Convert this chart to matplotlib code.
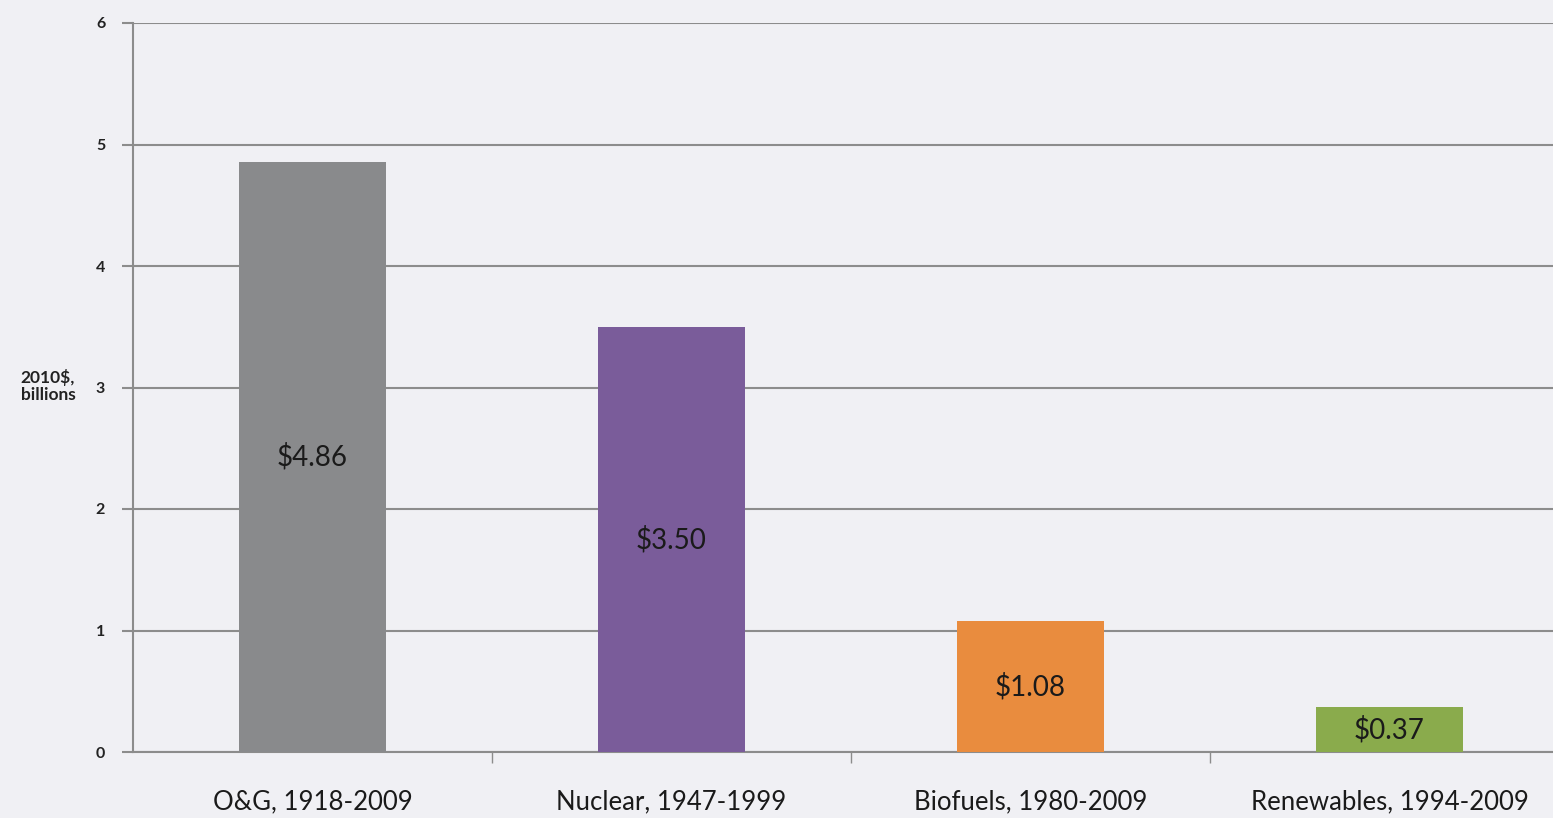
import matplotlib
matplotlib.use("Agg")
import matplotlib.pyplot as plt

categories = ["O&G, 1918-2009", "Nuclear, 1947-1999", "Biofuels, 1980-2009", "Renewables, 1994-2009"]
values = [4.86, 3.50, 1.08, 0.37]
value_labels = ["$4.86", "$3.50", "$1.08", "$0.37"]
colors = ["#898a8c", "#7a5c9a", "#e98c3e", "#8aab4c"]
yticks = [0, 1, 2, 3, 4, 5, 6]

bg = "#f0f0f4"
plt.rcParams['font.family'] = ['Lato', 'DejaVu Sans']

fig = plt.figure(figsize=(15.53, 8.18), dpi=100, facecolor=bg)
ax = fig.add_axes([133/1553, 66/818, 1436/1553, 729/818], facecolor=bg)

x = list(range(len(categories)))
ax.bar(x, values, width=0.41, color=colors, zorder=3)
for xi, v, lab in zip(x, values, value_labels):
    ax.text(xi, v / 2, lab, ha="center", va="center", fontsize=20, color="#1a1a1a", zorder=4)

ax.set_xlim(-0.5, 3.5)
ax.set_ylim(0, 6)
ax.set_yticks(yticks)
ax.set_yticklabels([str(t) for t in yticks], fontsize=11.5, fontweight="bold", color="#222222")
ax.yaxis.grid(True, color="#8c8c8c", linewidth=1.5, zorder=1)
ax.set_xticks(x)
ax.set_xticklabels(categories, fontsize=18.5, color="#1a1a1a")
ax.tick_params(axis="x", which="major", length=0, pad=27)
ax.set_xticks([0.5, 1.5, 2.5], minor=True)
ax.tick_params(axis="x", which="minor", length=8, width=1, color="#8c8c8c", direction="out")
ax.tick_params(axis="y", length=8, width=1.5, color="#8c8c8c", pad=12)

for s in ["top", "right"]:
    ax.spines[s].set_visible(False)
ax.spines["left"].set_color("#8c8c8c")
ax.spines["left"].set_linewidth(1.5)
ax.spines["bottom"].set_color("#8c8c8c")
ax.spines["bottom"].set_linewidth(1.5)

fig.text(48/1553, 1 - 386/818, "2010$,\nbillions", ha="center", va="center",
         fontsize=12.5, fontweight="bold", color="#222222", linespacing=1.15)

fig.savefig("out.png", dpi=100, facecolor=bg)
